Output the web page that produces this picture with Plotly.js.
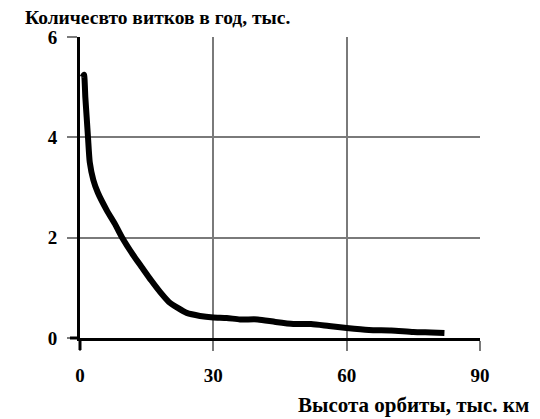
<!DOCTYPE html>
<html>
<head>
<meta charset="utf-8">
<script src="https://cdn.plot.ly/plotly-3.0.1.min.js"></script>
<style>html,body{margin:0;padding:0;background:#fff;}#chart{width:540px;height:419px;}</style>
</head>
<body>
<div id="chart"></div>
<script>
// Orbit altitude, thousand km
var altitude = [0.6, 0.9, 1.2, 1.5, 1.8, 2.2, 3.0, 4.0, 6.0, 8.0, 9.5, 12.0, 14.0, 16.0, 18.0, 20.0, 22.0, 24.0, 27.0, 30.0, 33.0, 36.0, 40.0, 44.0, 48.0, 52.0, 56.0, 60.0, 65.0, 70.0, 75.0, 79.0, 82.0];
// Revolutions per year, thousand
var revolutions = [5.2, 5.25, 4.8, 4.4, 4.0, 3.5, 3.15, 2.9, 2.55, 2.25, 2.0, 1.65, 1.4, 1.15, 0.92, 0.72, 0.6, 0.5, 0.44, 0.41, 0.4, 0.37, 0.37, 0.32, 0.28, 0.28, 0.24, 0.2, 0.16, 0.15, 0.12, 0.11, 0.1];
var xTicks = [0, 30, 60, 90];
var yTicks = [0, 2, 4, 6];
var titleText = 'Количесвто витков в год, тыс.';
var xTitleText = 'Высота орбиты, тыс. км';

var fontFam = '"Liberation Serif", "DejaVu Serif", serif';

var trace = {
  x: altitude,
  y: revolutions,
  type: 'scatter',
  mode: 'lines',
  line: {color: '#000', width: 6, shape: 'spline', smoothing: 0.6},
  hoverinfo: 'skip'
};

var layout = {
  width: 540,
  height: 419,
  margin: {l: 80, r: 60, t: 37, b: 81},
  paper_bgcolor: '#fff',
  plot_bgcolor: '#fff',
  showlegend: false,
  font: {family: fontFam, color: '#000', size: 19},
  title: {
    text: '<b>' + titleText + '</b>',
    xref: 'container', yref: 'container',
    x: 25/540, xanchor: 'left',
    y: 1 - 17/419, yanchor: 'middle',
    font: {family: fontFam, size: 19.5, color: '#000'}
  },
  xaxis: {
    range: [0, 90],
    tickvals: xTicks,
    ticktext: xTicks.map(function(v){return '<b>' + v + '</b>';}),
    showgrid: true, gridcolor: '#7a7a7a', gridwidth: 2,
    zeroline: false,
    showline: true, linecolor: '#000', linewidth: 3,
    ticks: 'outside', ticklen: 10, tickwidth: 2, tickcolor: '#7a7a7a',
    ticklabelstandoff: 8,
    tickfont: {family: fontFam, size: 19, color: '#000'},
    fixedrange: true
  },
  yaxis: {
    range: [0, 6],
    tickvals: yTicks,
    ticktext: yTicks.map(function(v){return '<b>' + v + '</b>';}),
    showgrid: true, gridcolor: '#7a7a7a', gridwidth: 2,
    zeroline: false,
    showline: true, linecolor: '#000', linewidth: 3,
    ticks: 'outside', ticklen: 10, tickwidth: 2, tickcolor: '#7a7a7a',
    ticklabelstandoff: 6,
    tickfont: {family: fontFam, size: 19, color: '#000'},
    fixedrange: true
  },
  shapes: [
    {type: 'line', xref: 'paper', yref: 'paper', ysizemode: 'pixel',
     x0: 0, x1: 0, yanchor: 0, y0: 0, y1: -12, layer: 'above', line: {color: '#000', width: 3}},
    {type: 'line', xref: 'paper', yref: 'paper', xsizemode: 'pixel',
     xanchor: 0, x0: -10, x1: 0, y0: 0, y1: 0, layer: 'above', line: {color: '#000', width: 3}}
  ],
  annotations: [{
    text: '<b>' + xTitleText + '</b>',
    xref: 'paper', yref: 'paper',
    x: (531 - 80) / 400, xanchor: 'right',
    y: (338 - 405) / 301, yanchor: 'middle',
    showarrow: false,
    font: {family: fontFam, size: 21, color: '#000'}
  }]
};

Plotly.newPlot('chart', [trace], layout, {displayModeBar: false, staticPlot: true});
</script>
</body>
</html>
